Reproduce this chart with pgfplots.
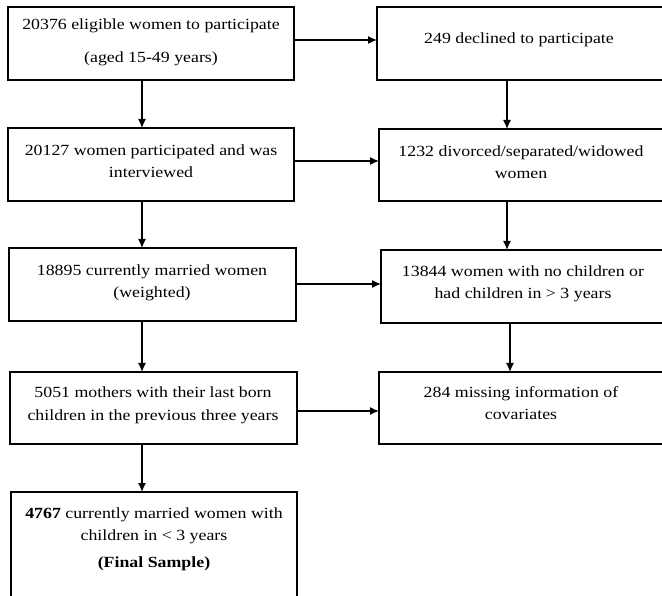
\documentclass[border=0pt]{standalone}
\usepackage{fontspec}
\setmainfont[FakeStretch=1.15]{Liberation Serif}
\usepackage{pgfplots}
\pgfplotsset{compat=1.18}
\usetikzlibrary{arrows.meta}
\begin{document}
\begin{tikzpicture}
\begin{axis}[name=ax, hide axis, scale only axis, width=662pt, height=596pt,
  xmin=0, xmax=662, ymin=0, ymax=596, y dir=reverse, clip=false]
% boxes
\draw[line width=1.4pt] (axis cs:8,7) rectangle (axis cs:294,80);
\draw[line width=1.4pt] (axis cs:662,7) -- (axis cs:377,7) -- (axis cs:377,80) -- (axis cs:662,80);
\draw[line width=1.4pt] (axis cs:8,128) rectangle (axis cs:294,201);
\draw[line width=1.4pt] (axis cs:662,129) -- (axis cs:379,129) -- (axis cs:379,201) -- (axis cs:662,201);
\draw[line width=1.4pt] (axis cs:9,248) rectangle (axis cs:296,321);
\draw[line width=1.4pt] (axis cs:662,250) -- (axis cs:381,250) -- (axis cs:381,323) -- (axis cs:662,323);
\draw[line width=1.4pt] (axis cs:10,372) rectangle (axis cs:297,444);
\draw[line width=1.4pt] (axis cs:662,372) -- (axis cs:379,372) -- (axis cs:379,444) -- (axis cs:662,444);
\draw[line width=1.4pt] (axis cs:11,596) -- (axis cs:11,492) -- (axis cs:297,492) -- (axis cs:297,596);
% arrows
\tikzset{arr/.style={line width=1.3pt, -{Latex[length=9pt,width=8pt]}}}
\draw[arr] (axis cs:294,40) -- (axis cs:377,40);
\draw[arr] (axis cs:294,161) -- (axis cs:379,161);
\draw[arr] (axis cs:296,284) -- (axis cs:381,284);
\draw[arr] (axis cs:297,411) -- (axis cs:379,411);
\draw[arr] (axis cs:142,80) -- (axis cs:142,128);
\draw[arr] (axis cs:142,201) -- (axis cs:142,248);
\draw[arr] (axis cs:142,321) -- (axis cs:142,372);
\draw[arr] (axis cs:142,444) -- (axis cs:142,492);
\draw[arr] (axis cs:507,80) -- (axis cs:507,129);
\draw[arr] (axis cs:507,201) -- (axis cs:507,250);
\draw[arr] (axis cs:510,323) -- (axis cs:510,372);
% text
\tikzset{t/.style={anchor=base, inner sep=0pt, font=\fontsize{15.5}{18}\selectfont}}
\node[t] at (axis cs:151,29.5) {20376 eligible women to participate};
\node[t] at (axis cs:151,63) {(aged 15-49 years)};
\node[t] at (axis cs:519,43.5) {249 declined to participate};
\node[t] at (axis cs:151,156) {20127 women participated and was};
\node[t] at (axis cs:151,178) {interviewed};
\node[t] at (axis cs:521,157) {1232 divorced/separated/widowed};
\node[t] at (axis cs:521,179) {women};
\node[t] at (axis cs:152,276) {18895 currently married women};
\node[t] at (axis cs:152,298) {(weighted)};
\node[t] at (axis cs:523,277) {13844 women with no children or};
\node[t] at (axis cs:523,299) {had children in > 3 years};
\node[t] at (axis cs:153,397) {5051 mothers with their last born};
\node[t] at (axis cs:153,420) {children in the previous three years};
\node[t] at (axis cs:521,397) {284 missing information of};
\node[t] at (axis cs:521,419) {covariates};
\node[t] at (axis cs:154,518) {\textbf{4767} currently married women with};
\node[t] at (axis cs:154,540) {children in < 3 years};
\node[t] at (axis cs:154,567) {\textbf{(Final Sample)}};
\end{axis}
\pgfresetboundingbox
\path (ax.south west) rectangle (ax.north east);
\end{tikzpicture}
\end{document}
